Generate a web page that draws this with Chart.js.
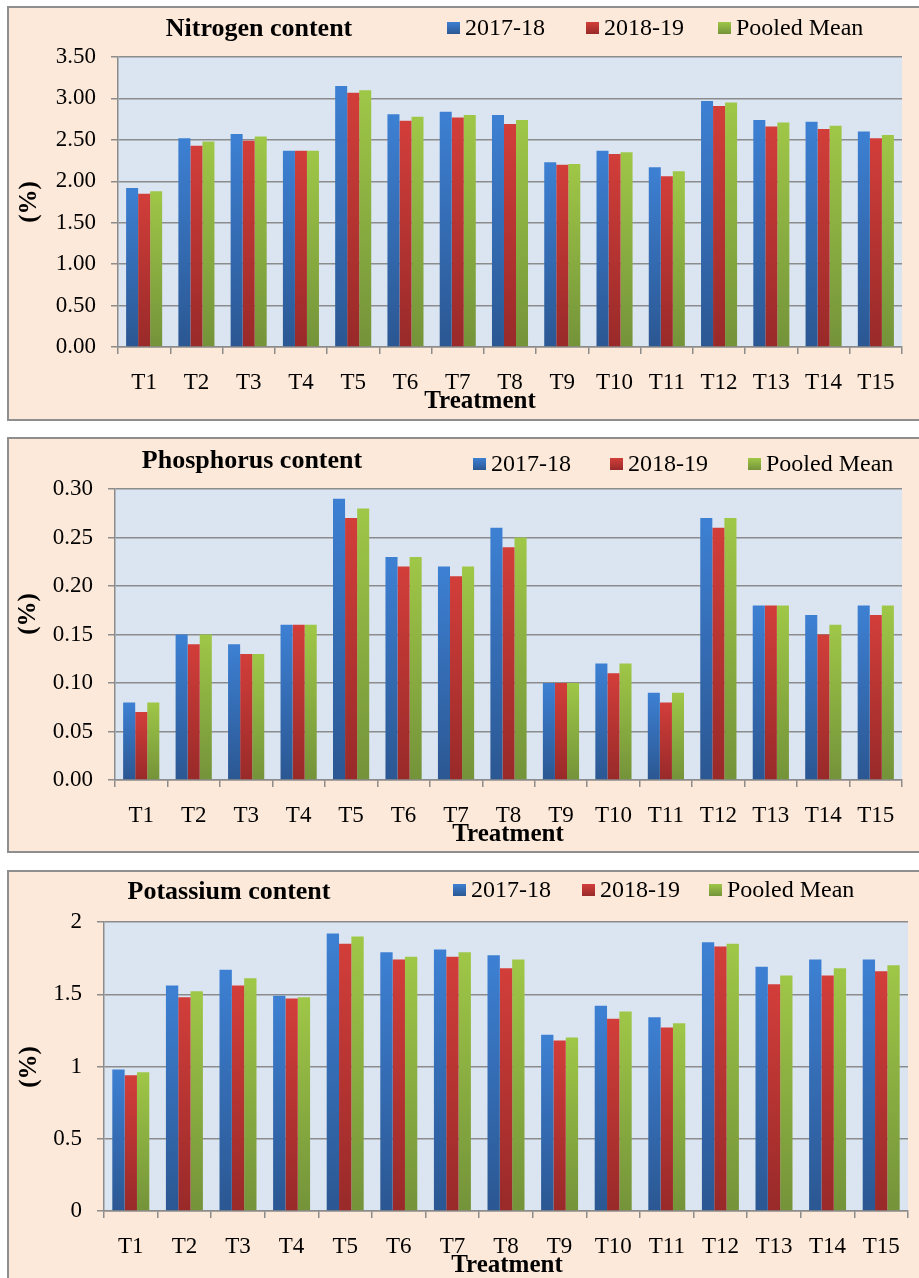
<!DOCTYPE html>
<html>
<head>
<meta charset="utf-8">
<title>Nitrogen, phosphorus and potassium content</title>
<script src="https://cdn.jsdelivr.net/npm/chart.js@4.4.1/dist/chart.umd.min.js"></script>
<style>
  html, body { margin: 0; padding: 0; background: #ffffff; }
  body { width: 919px; height: 1278px; overflow: hidden; position: relative; }
  .panel { position: absolute; left: 7px; width: 940px; border: 2px solid #8e8e8e; background: #fde9d9; box-sizing: border-box; }
  .panel canvas { position: absolute; left: 0; top: 0; }
</style>
</head>
<body>
<div class="panel" style="top:6px;height:415px"><canvas id="nitrogen" width="910" height="411"></canvas></div>
<div class="panel" style="top:437px;height:416px"><canvas id="phosphorus" width="910" height="412"></canvas></div>
<div class="panel" style="top:870px;height:420px"><canvas id="potassium" width="910" height="416"></canvas></div>

<script>
// values
const treatments = ['T1','T2','T3','T4','T5','T6','T7','T8','T9','T10','T11','T12','T13','T14','T15'];
const seasons = ['2017-18', '2018-19', 'Pooled Mean'];

const nitrogen2017   = [1.92, 2.52, 2.57, 2.37, 3.15, 2.81, 2.84, 2.80, 2.23, 2.37, 2.17, 2.97, 2.74, 2.72, 2.60];
const nitrogen2018   = [1.85, 2.43, 2.49, 2.37, 3.07, 2.73, 2.77, 2.69, 2.20, 2.33, 2.06, 2.91, 2.66, 2.63, 2.52];
const nitrogenPooled = [1.88, 2.48, 2.54, 2.37, 3.10, 2.78, 2.80, 2.74, 2.21, 2.35, 2.12, 2.95, 2.71, 2.67, 2.56];
const nitrogenTicks  = ['0.00', '0.50', '1.00', '1.50', '2.00', '2.50', '3.00', '3.50'];

const phosphorus2017   = [0.08, 0.15, 0.14, 0.16, 0.29, 0.23, 0.22, 0.26, 0.10, 0.12, 0.09, 0.27, 0.18, 0.17, 0.18];
const phosphorus2018   = [0.07, 0.14, 0.13, 0.16, 0.27, 0.22, 0.21, 0.24, 0.10, 0.11, 0.08, 0.26, 0.18, 0.15, 0.17];
const phosphorusPooled = [0.08, 0.15, 0.13, 0.16, 0.28, 0.23, 0.22, 0.25, 0.10, 0.12, 0.09, 0.27, 0.18, 0.16, 0.18];
const phosphorusTicks  = ['0.00', '0.05', '0.10', '0.15', '0.20', '0.25', '0.30'];

const potassium2017   = [0.98, 1.56, 1.67, 1.49, 1.92, 1.79, 1.81, 1.77, 1.22, 1.42, 1.34, 1.86, 1.69, 1.74, 1.74];
const potassium2018   = [0.94, 1.48, 1.56, 1.47, 1.85, 1.74, 1.76, 1.68, 1.18, 1.33, 1.27, 1.83, 1.57, 1.63, 1.66];
const potassiumPooled = [0.96, 1.52, 1.61, 1.48, 1.90, 1.76, 1.79, 1.74, 1.20, 1.38, 1.30, 1.85, 1.63, 1.68, 1.70];
const potassiumTicks  = ['0', '0.5', '1', '1.5', '2'];

// styling
const SERIF = '"Liberation Serif", "Times New Roman", serif';
const GREY = '#8c8c8c';
const PLOT_BG = '#dbe5f1';
const TOP_COLORS = ['#3d80d3', '#d23e3a', '#9fc747'];
const BOTTOM_COLORS = ['#2b5792', '#982a29', '#74933a'];

// gradient per bar, light at the top, dark at the base
function barFill(i) {
  return ctx => {
    const chart = ctx.chart;
    const y = chart.scales.y;
    if (ctx.type !== 'data' || !y || !chart.chartArea) return TOP_COLORS[i];
    const top = y.getPixelForValue(ctx.raw);
    const base = y.getPixelForValue(0);
    if (!isFinite(top) || !isFinite(base) || base - top < 1) return TOP_COLORS[i];
    const g = chart.ctx.createLinearGradient(0, top, 0, base);
    g.addColorStop(0, TOP_COLORS[i]);
    g.addColorStop(1, BOTTOM_COLORS[i]);
    return g;
  };
}

// plot background, titles and the legend row
const panelDecor = {
  id: 'panelDecor',
  beforeDraw(chart) {
    const { ctx, chartArea: a } = chart;
    ctx.save();
    ctx.fillStyle = PLOT_BG;
    ctx.fillRect(a.left, a.top, a.right - a.left, a.bottom - a.top);
    ctx.restore();
  },
  afterDraw(chart, args, o) {
    const ctx = chart.ctx;
    ctx.save();
    ctx.fillStyle = '#000';
    ctx.textBaseline = 'middle';
    ctx.textAlign = 'center';
    ctx.font = 'bold 26px ' + SERIF;
    ctx.fillText(o.title, o.titleX, o.titleY);
    ctx.font = 'bold 25px ' + SERIF;
    ctx.fillText('Treatment', o.xTitleX, o.xTitleY);
    ctx.save();
    ctx.translate(o.yTitleX, o.yTitleY);
    ctx.rotate(-Math.PI / 2);
    ctx.fillText('(%)', 0, 0);
    ctx.restore();

    ctx.font = '24px ' + SERIF;
    ctx.textAlign = 'left';
    chart.data.datasets.forEach((ds, i) => {
      const x = o.legendX[i], y = o.legendY;
      const g = ctx.createLinearGradient(0, y - 6, 0, y + 6);
      g.addColorStop(0, TOP_COLORS[i]);
      g.addColorStop(1, BOTTOM_COLORS[i]);
      ctx.fillStyle = g;
      ctx.fillRect(x, y - 6, 13, 12);
      ctx.fillStyle = '#000';
      ctx.fillText(ds.label, x + 18, y + 1);
    });
    ctx.restore();
  }
};

function makePanel(id, series, tickLabels, p) {
  const canvas = document.getElementById(id);
  const h = canvas.height, w = canvas.width;
  const values = tickLabels.map(Number);
  return new Chart(canvas, {
    type: 'bar',
    data: {
      labels: treatments,
      datasets: series.map((data, i) => ({
        label: seasons[i],
        data: data,
        backgroundColor: barFill(i),
        borderWidth: 0,
        categoryPercentage: 0.69,
        barPercentage: 1.0
      }))
    },
    options: {
      responsive: false,
      animation: false,
      devicePixelRatio: 1,
      layout: { padding: { left: 0, top: p.area.top, right: w - p.area.right, bottom: 0 } },
      plugins: {
        legend: { display: false },
        title: { display: false },
        tooltip: { enabled: false },
        panelDecor: p.decor
      },
      scales: {
        x: {
          grid: { display: true, drawOnChartArea: false, drawTicks: true, tickLength: 7, color: GREY, lineWidth: 1.5, offset: true },
          border: { display: true, color: GREY, width: 1.5 },
          ticks: { color: '#000', font: { family: SERIF, size: 23 }, padding: 15, maxRotation: 0, autoSkip: false },
          afterFit: s => { s.height = h - p.area.bottom; }
        },
        y: {
          min: values[0],
          max: values[values.length - 1],
          afterBuildTicks: s => { s.ticks = values.map(v => ({ value: v })); },
          grid: { color: GREY, lineWidth: 1.5, drawTicks: true, tickLength: 7 },
          border: { display: true, color: GREY, width: 1.5 },
          ticks: { color: '#000', font: { family: SERIF, size: 23 }, padding: 15, callback: (v, i) => tickLabels[i] },
          afterFit: s => { s.width = p.area.left; }
        }
      }
    },
    plugins: [panelDecor]
  });
}

makePanel('nitrogen', [nitrogen2017, nitrogen2018, nitrogenPooled], nitrogenTicks, {
  area: { left: 109, top: 49, right: 893, bottom: 339 },
  decor: { title: 'Nitrogen content', titleX: 250, titleY: 21, xTitleX: 471, xTitleY: 394,
           yTitleX: 21, yTitleY: 194, legendX: [438, 577, 709], legendY: 20 }
});

makePanel('phosphorus', [phosphorus2017, phosphorus2018, phosphorusPooled], phosphorusTicks, {
  area: { left: 106, top: 50, right: 893, bottom: 341 },
  decor: { title: 'Phosphorus content', titleX: 243, titleY: 22, xTitleX: 499, xTitleY: 396,
           yTitleX: 20, yTitleY: 175, legendX: [464, 601, 739], legendY: 25 }
});

makePanel('potassium', [potassium2017, potassium2018, potassiumPooled], potassiumTicks, {
  area: { left: 95, top: 50, right: 899, bottom: 339 },
  decor: { title: 'Potassium content', titleX: 220, titleY: 20, xTitleX: 498, xTitleY: 394,
           yTitleX: 21, yTitleY: 195, legendX: [444, 573, 700], legendY: 18 }
});
</script>
</body>
</html>
